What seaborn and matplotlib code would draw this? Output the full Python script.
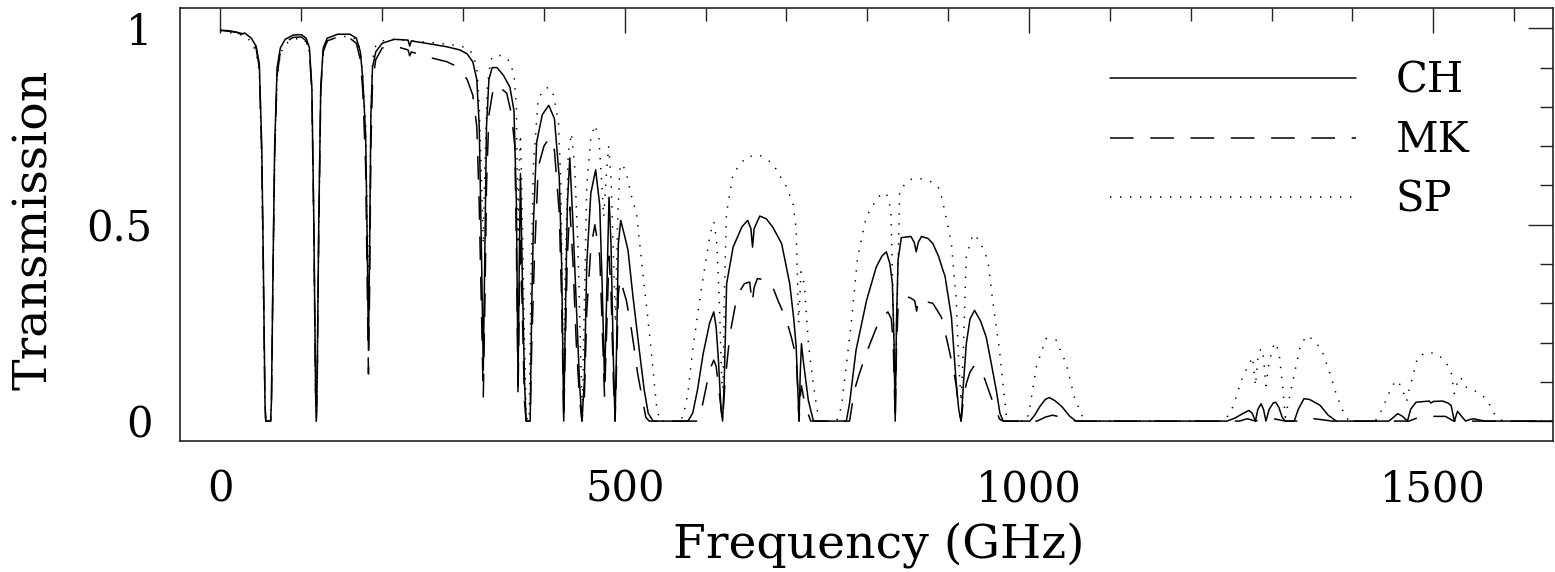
import matplotlib
matplotlib.use('Agg')
import numpy as np
import pandas as pd
import matplotlib.pyplot as plt
import seaborn as sns
from matplotlib.ticker import MultipleLocator, FixedLocator, FixedFormatter

# Atmospheric transmission (frequency in GHz)
freq_ch = [0, 10, 20, 25, 30, 38, 44, 48, 51, 53, 55, 56, 62, 63, 65, 67, 70, 74, 80, 90, 100,
           106, 110, 113, 115.5, 117.5, 118.5, 119.5, 121.5, 124, 127, 132, 145, 160, 168, 173,
           176, 179.5, 181.5, 183, 184.5, 186, 188, 192, 200, 215, 232, 234, 236, 260, 280, 296,
           305, 312, 317, 320, 323, 325, 327, 329, 332, 336, 342, 350, 358, 363, 366, 368, 369.5,
           371, 373, 376, 378, 383, 385, 387, 391, 398, 406, 413, 419, 422, 424.5, 426, 429, 432,
           436, 440, 444, 447, 450, 453, 458, 464, 469, 472, 475, 478, 480.5, 483, 486, 488, 490,
           492, 495, 500, 504, 510, 518, 524, 529, 535, 578, 584, 590, 597, 605, 610, 613, 616,
           619, 621, 623, 626, 634, 645, 652, 656, 658, 660, 667, 675, 683, 694, 704, 709, 712,
           714, 715.5, 717, 718.5, 721, 727, 733, 735, 774, 778, 786, 799, 811, 818, 823.5, 828,
           831, 833, 834.5, 836, 838, 842, 854, 858, 860.5, 863, 867, 875, 881, 888, 893.5, 896,
           899, 904, 910, 913, 916, 919, 922.4, 927, 932.6, 940, 947, 953, 959.5, 964, 968, 1001,
           1007, 1013, 1020, 1025, 1032, 1041, 1050, 1058, 1245, 1255, 1265, 1272, 1276, 1280,
           1283, 1287, 1290, 1293, 1297, 1302, 1305, 1309, 1313, 1317, 1328, 1333, 1340, 1347,
           1360, 1370, 1380, 1445, 1451, 1456, 1462, 1468, 1472, 1478.6, 1490, 1495, 1497, 1500,
           1511.5, 1518, 1522, 1526, 1530, 1535, 1540, 1545, 1550, 1556, 1565, 1650]
trans_ch = [0.995, 0.994, 0.99, 0.985, 0.988, 0.975, 0.955, 0.91, 0.7, 0.4, 0.05, 0, 0, 0.05, 0.4,
            0.7, 0.9, 0.95, 0.972, 0.983, 0.984, 0.975, 0.95, 0.85, 0.5, 0.1, 0, 0.1, 0.5, 0.85,
            0.95, 0.975, 0.985, 0.985, 0.975, 0.94, 0.87, 0.73, 0.45, 0.18, 0.45, 0.78, 0.9, 0.94,
            0.962, 0.972, 0.97, 0.955, 0.968, 0.96, 0.953, 0.945, 0.935, 0.915, 0.87, 0.75, 0.4,
            0.13, 0.45, 0.75, 0.87, 0.9, 0.9, 0.88, 0.85, 0.79, 0.55, 0.09, 0.4, 0.63, 0.4, 0.1,
            0, 0, 0.3, 0.5, 0.71, 0.78, 0.804, 0.77, 0.62, 0.39, 0, 0.2, 0.55, 0.67, 0.5, 0.3, 0.1,
            0, 0.1, 0.4, 0.58, 0.64, 0.55, 0.35, 0.1, 0.35, 0.57, 0.45, 0.15, 0, 0.2, 0.45, 0.511,
            0.47, 0.435, 0.32, 0.18, 0.08, 0.02, 0, 0, 0.02, 0.08, 0.172, 0.25, 0.278, 0.24, 0.15,
            0.03, 0, 0.1, 0.35, 0.443, 0.495, 0.511, 0.49, 0.443, 0.49, 0.522, 0.515, 0.494, 0.452,
            0.35, 0.26, 0.189, 0.08, 0, 0.12, 0.197, 0.15, 0.053, 0.003, 0, 0, 0.045, 0.18, 0.307,
            0.392, 0.42, 0.431, 0.4, 0.35, 0.2, 0, 0.25, 0.41, 0.467, 0.47, 0.455, 0.431, 0.455,
            0.47, 0.465, 0.452, 0.42, 0.384, 0.37, 0.33, 0.265, 0.095, 0.03, 0, 0.1, 0.197, 0.26,
            0.282, 0.255, 0.214, 0.15, 0.078, 0.02, 0, 0, 0.015, 0.036, 0.055, 0.06, 0.052, 0.036,
            0.013, 0, 0, 0.008, 0.02, 0.027, 0.02, 0, 0.03, 0.044, 0.03, 0, 0.03, 0.046, 0.048,
            0.035, 0.01, 0, 0, 0.03, 0.057, 0.055, 0.04, 0.015, 0, 0, 0.01, 0.019, 0.012, 0, 0.03,
            0.048, 0.05, 0.051, 0.046, 0.05, 0.051, 0.046, 0.04, 0, 0.025, 0.012, 0, 0.004, 0.006,
            0.003, 0, 0]

freq_mk = [0, 20, 30, 38, 44, 48, 51, 53, 55, 56, 62, 63, 65, 67, 70, 74, 80, 90, 100, 106, 110,
           113, 115.5, 117.5, 118.5, 119.5, 121.5, 124, 127, 132, 145, 160, 168, 173, 176, 179.5,
           181.5, 183, 184.5, 186, 188, 192, 200, 215, 232, 234, 236, 260, 280, 290, 298, 305, 312,
           317, 320, 323, 325, 327, 329, 332, 338, 345, 354, 360, 364, 366, 368, 369.5, 371, 373,
           376, 378, 383, 385, 388, 393, 400, 407, 413, 419, 422, 424.5, 426, 429, 432, 436, 440,
           444, 447, 450, 453, 458, 463, 469, 472, 475, 478, 480.5, 483, 486, 488, 490, 492, 494,
           502, 507, 512, 516, 520.6, 526, 530, 590, 595, 600, 605, 610, 613, 617, 621, 624, 630,
           639, 648, 654.5, 657.5, 660, 664, 672, 681, 689.5, 700, 706, 712, 714, 715.5, 717,
           718.5, 723, 730, 778, 784, 790, 798.7, 805, 815, 825.5, 829.6, 832, 834.5, 836, 838,
           846, 852, 858.5, 861, 863, 870, 881, 891.5, 897.6, 905.8, 910, 913, 916, 919, 922.4,
           927, 932.6, 943, 953, 963.5, 968, 1010, 1020, 1029, 1040, 1050, 1058, 1260, 1270, 1280,
           1290, 1300, 1317, 1335, 1345, 1360, 1375, 1470, 1480, 1495, 1500, 1515, 1525, 1535,
           1545, 1650]
trans_mk = [0.995, 0.99, 0.985, 0.97, 0.95, 0.9, 0.68, 0.38, 0.04, 0, 0, 0.04, 0.38, 0.68, 0.88,
            0.94, 0.965, 0.977, 0.978, 0.968, 0.94, 0.84, 0.48, 0.08, 0, 0.08, 0.48, 0.84, 0.94,
            0.968, 0.978, 0.975, 0.962, 0.92, 0.84, 0.65, 0.35, 0.12, 0.35, 0.7, 0.86, 0.92, 0.95,
            0.955, 0.945, 0.93, 0.94, 0.925, 0.915, 0.905, 0.89, 0.87, 0.83, 0.75, 0.55, 0.25, 0.06,
            0.3, 0.6, 0.78, 0.855, 0.85, 0.835, 0.78, 0.7, 0.45, 0.06, 0.3, 0.48, 0.3, 0.05, 0, 0,
            0.2, 0.4, 0.647, 0.7, 0.722, 0.69, 0.53, 0.3, 0, 0.15, 0.42, 0.545, 0.4, 0.2, 0.06, 0,
            0.06, 0.28, 0.44, 0.5, 0.42, 0.25, 0.06, 0.26, 0.42, 0.33, 0.1, 0, 0.15, 0.32, 0.363,
            0.307, 0.25, 0.18, 0.12, 0.07, 0.01, 0, 0, 0.03, 0.08, 0.13, 0.155, 0.14, 0.07, 0, 0.1,
            0.22, 0.32, 0.35, 0.354, 0.3, 0.34, 0.363, 0.36, 0.352, 0.307, 0.257, 0.214, 0.163,
            0.08, 0, 0.06, 0.09, 0.04, 0, 0, 0.078, 0.12, 0.172, 0.206, 0.257, 0.278, 0.26, 0.2, 0,
            0.18, 0.29, 0.316, 0.315, 0.307, 0.28, 0.31, 0.305, 0.3, 0.265, 0.214, 0.138, 0.09,
            0.03, 0, 0.06, 0.095, 0.125, 0.142, 0.12, 0.061, 0.005, 0, 0, 0.01, 0.015, 0.01, 0.004,
            0, 0, 0.006, 0, 0.006, 0.007, 0, 0, 0.008, 0.004, 0, 0, 0.008, 0.01, 0.012, 0.012, 0,
            0.004, 0, 0]

freq_sp = [0, 20, 30, 38, 44, 48, 51, 53, 55, 56, 62, 63, 65, 67, 70, 74, 80, 90, 100, 106, 110,
           113, 115.5, 117.5, 118.5, 119.5, 121.5, 124, 127, 132, 145, 160, 168, 173, 176, 179.5,
           181.5, 183, 184.5, 186, 188, 192, 200, 215, 240, 270, 296, 305, 312, 317, 320, 323, 325,
           327, 330, 334, 340, 350, 358, 363, 366, 368, 369.5, 371, 373, 376, 378, 380, 382, 384,
           387, 392.8, 400, 406, 412, 418, 421, 424.5, 426, 430, 434, 438, 442, 445, 447.5, 450,
           453, 458, 463, 468, 471, 474, 477, 480, 483, 486, 488.5, 491, 494, 497, 502, 508, 514.5,
           522.6, 531, 539, 543, 565, 572, 578, 584, 592, 601, 606, 610.4, 614, 617, 620, 621.5,
           623, 625.7, 634, 650.4, 667, 683, 700, 708, 712, 715, 718, 722, 727, 733, 740, 762, 768,
           780, 788, 798.7, 813, 823.5, 829, 832, 834.5, 837, 840, 852, 864.6, 879, 889.4, 895.5,
           904, 910, 913, 916, 919, 922.4, 930.5, 938.8, 949, 955, 963.5, 972, 976, 997, 1000.6,
           1009, 1021, 1033.6, 1046, 1056, 1066, 1072, 1240, 1245, 1252, 1256, 1264, 1270.5,
           1276.6, 1280, 1283, 1285, 1289, 1293, 1297, 1302, 1305.6, 1310, 1314, 1317, 1320, 1325,
           1330, 1336, 1344.6, 1355, 1363, 1371.5, 1380, 1390, 1396, 1428, 1433, 1441.5, 1448,
           1454, 1460, 1467, 1470, 1474.4, 1480.6, 1493, 1505.5, 1515.6, 1522, 1526, 1530, 1534,
           1538, 1542, 1550.5, 1561, 1569, 1575.5, 1586, 1650]
trans_sp = [0.995, 0.985, 0.982, 0.965, 0.94, 0.89, 0.66, 0.36, 0.04, 0, 0, 0.04, 0.36, 0.66,
            0.87, 0.935, 0.96, 0.972, 0.975, 0.965, 0.94, 0.84, 0.48, 0.08, 0, 0.08, 0.48, 0.84,
            0.94, 0.968, 0.978, 0.98, 0.972, 0.945, 0.88, 0.75, 0.5, 0.28, 0.5, 0.8, 0.92, 0.955,
            0.968, 0.972, 0.967, 0.962, 0.955, 0.95, 0.935, 0.9, 0.8, 0.6, 0.45, 0.65, 0.85, 0.92,
            0.932, 0.93, 0.915, 0.88, 0.8, 0.45, 0.65, 0.73, 0.55, 0.2, 0.02, 0, 0.02, 0.35, 0.65,
            0.82, 0.845, 0.85, 0.83, 0.76, 0.6, 0.05, 0.35, 0.68, 0.733, 0.65, 0.45, 0.2, 0.02, 0.3,
            0.6, 0.72, 0.754, 0.72, 0.62, 0.52, 0.62, 0.7, 0.62, 0.42, 0.25, 0.5, 0.645, 0.655,
            0.63, 0.575, 0.528, 0.375, 0.214, 0.044, 0, 0, 0.01, 0.07, 0.18, 0.3, 0.418, 0.48,
            0.507, 0.45, 0.3, 0.1, 0.08, 0.3, 0.528, 0.63, 0.673, 0.677, 0.656, 0.596, 0.554, 0.49,
            0.25, 0.38, 0.35, 0.2, 0.096, 0, 0, 0.036, 0.248, 0.418, 0.52, 0.571, 0.581, 0.54, 0.3,
            0.03, 0.3, 0.588, 0.615, 0.618, 0.609, 0.592, 0.537, 0.452, 0.307, 0.15, 0.05, 0.2,
            0.418, 0.476, 0.46, 0.41, 0.307, 0.18, 0.013, 0, 0, 0.03, 0.138, 0.21, 0.206, 0.146,
            0.061, 0.012, 0, 0, 0.01, 0.036, 0.061, 0.112, 0.138, 0.163, 0.09, 0.16, 0.18, 0.184,
            0.09, 0.15, 0.19, 0.2, 0.16, 0.08, 0.01, 0.04, 0.09, 0.138, 0.197, 0.218, 0.2, 0.176,
            0.125, 0.068, 0.017, 0, 0, 0.015, 0.053, 0.085, 0.104, 0.09, 0.05, 0.08, 0.112, 0.163,
            0.176, 0.17, 0.15, 0.125, 0.07, 0.1, 0.112, 0.09, 0.085, 0.078, 0.065, 0.044, 0.019, 0,
            0]

sites = ['CH', 'MK', 'SP']
x_ticks = [0, 500, 1000, 1500]
y_ticks = [0, 0.5, 1]
y_tick_labels = ['0', '0.5', '1']

df = pd.concat([
    pd.DataFrame({'freq': freq_ch, 'trans': trans_ch, 'site': 'CH'}),
    pd.DataFrame({'freq': freq_mk, 'trans': trans_mk, 'site': 'MK'}),
    pd.DataFrame({'freq': freq_sp, 'trans': trans_sp, 'site': 'SP'}),
], ignore_index=True)

sns.set_style('white')
plt.rcParams['font.family'] = ['DejaVu Serif']
plt.rcParams['lines.scale_dashes'] = False
plt.rcParams['text.color'] = 'black'
plt.rcParams['axes.labelcolor'] = 'black'
plt.rcParams['xtick.color'] = 'black'
plt.rcParams['ytick.color'] = 'black'

fig = plt.figure(figsize=(15.55, 5.72), dpi=100)
ax = fig.add_axes([0.1158, 0.2295, 0.8829, 0.756])

sns.lineplot(data=df, x='freq', y='trans', style='site', style_order=sites,
             dashes={'CH': '', 'MK': (17, 12), 'SP': (1, 6.2)},
             color='black', linewidth=1.1, estimator=None, sort=False,
             legend=False, ax=ax)

ax.set_xlim(-50, 1648)
ax.set_ylim(-0.05, 1.051)
ax.xaxis.set_major_locator(FixedLocator(x_ticks))
ax.xaxis.set_minor_locator(MultipleLocator(100))
ax.yaxis.set_major_locator(FixedLocator(y_ticks))
ax.yaxis.set_major_formatter(FixedFormatter(y_tick_labels))
ax.yaxis.set_minor_locator(MultipleLocator(0.1))
ax.tick_params(which='both', direction='in', top=True, right=True, color='#222222', width=1)
ax.tick_params(which='major', length=18, labelsize=30, pad=20)
ax.tick_params(which='minor', length=9.5)
for s in ax.spines.values():
    s.set_linewidth(1.2)
    s.set_color('#222222')

ax.set_xlabel('Frequency (GHz)', fontsize=34)
ax.set_ylabel('Transmission', fontsize=34)
ax.xaxis.set_label_coords(0.509, -0.19)
ax.yaxis.set_label_coords(-0.09, 0.487)

ax.legend(ax.get_lines()[:3], sites, frameon=False, fontsize=30,
          loc='upper left', bbox_to_anchor=(0.6774, 0.881),
          handlelength=5.9, handletextpad=0.95, labelspacing=0.42,
          borderpad=0, borderaxespad=0)

fig.savefig('out.png', dpi=100)
